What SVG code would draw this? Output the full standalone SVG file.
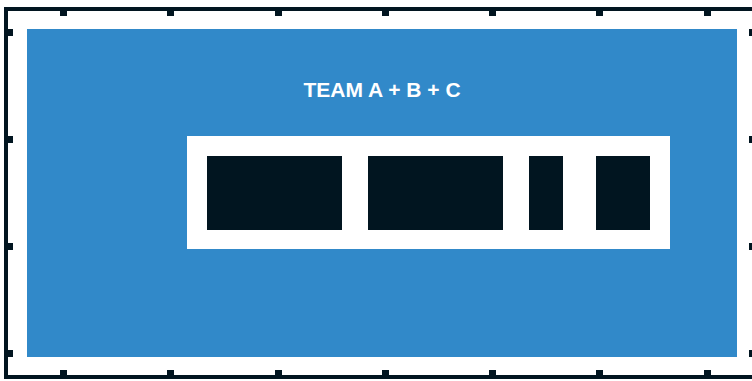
<svg xmlns="http://www.w3.org/2000/svg" width="752" height="381" viewBox="0 0 752 381">
<style>
.frame{fill:none;stroke:#011520;stroke-width:4}
.tick{fill:#011520}
.block{fill:#011520}
.title{font-family:"Liberation Sans",Arial,sans-serif;font-weight:bold;font-size:21px;fill:#ffffff}
</style>
<rect x="0" y="0" width="752" height="381" fill="#ffffff"/>
<g id="frame">
<rect class="frame" x="6" y="9" width="750" height="368"/>
<rect class="tick" x="60" y="11" width="7" height="5"/>
<rect class="tick" x="167" y="11" width="7" height="5"/>
<rect class="tick" x="275" y="11" width="7" height="5"/>
<rect class="tick" x="382" y="11" width="7" height="5"/>
<rect class="tick" x="489" y="11" width="7" height="5"/>
<rect class="tick" x="596" y="11" width="7" height="5"/>
<rect class="tick" x="704" y="11" width="7" height="5"/>
<rect class="tick" x="60" y="370" width="7" height="5"/>
<rect class="tick" x="167" y="370" width="7" height="5"/>
<rect class="tick" x="275" y="370" width="7" height="5"/>
<rect class="tick" x="382" y="370" width="7" height="5"/>
<rect class="tick" x="489" y="370" width="7" height="5"/>
<rect class="tick" x="596" y="370" width="7" height="5"/>
<rect class="tick" x="704" y="370" width="7" height="5"/>
<rect class="tick" x="8" y="29" width="5" height="7"/>
<rect class="tick" x="8" y="136" width="5" height="7"/>
<rect class="tick" x="8" y="243" width="5" height="7"/>
<rect class="tick" x="8" y="350" width="5" height="7"/>
<rect class="tick" x="749" y="29" width="5" height="7"/>
<rect class="tick" x="749" y="136" width="5" height="7"/>
<rect class="tick" x="749" y="243" width="5" height="7"/>
<rect class="tick" x="749" y="350" width="5" height="7"/>
</g>
<g id="team">
<rect x="27" y="29" width="710" height="328" fill="#3189C9"/>
<text class="title" x="382" y="97" text-anchor="middle">TEAM A + B + C</text>
</g>
<g id="container">
<rect x="187" y="136" width="483" height="113" fill="#ffffff"/>
</g>
<g id="block1"><rect class="block" x="207" y="156" width="135" height="74"/></g>
<g id="block2"><rect class="block" x="368" y="156" width="135" height="74"/></g>
<g id="block3"><rect class="block" x="529" y="156" width="34" height="74"/></g>
<g id="block4"><rect class="block" x="596" y="156" width="54" height="74"/></g>
<g id="connectors"></g>
</svg>
